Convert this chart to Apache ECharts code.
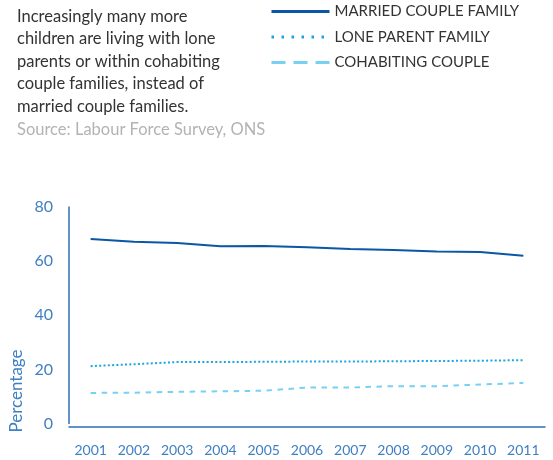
<!DOCTYPE html>
<html>
<head>
<meta charset="utf-8">
<script src="https://cdn.jsdelivr.net/npm/echarts@6/dist/echarts.min.js"></script>
<style>
  html, body { margin: 0; padding: 0; background: #fff; }
  #chart { width: 553px; height: 460px; }
</style>
</head>
<body>
<div id="chart"></div>
<script>
// Share of dependent children by family type, UK 2001-2011 (%)
const years = ['2001', '2002', '2003', '2004', '2005', '2006', '2007', '2008', '2009', '2010', '2011'];
const marriedCouple = [68.2, 67.2, 66.7, 65.5, 65.6, 65.1, 64.5, 64.1, 63.6, 63.4, 62.0];
const loneParent = [21.2, 21.9, 22.7, 22.7, 22.8, 22.9, 22.9, 23.0, 23.1, 23.2, 23.4];
const cohabitingCouple = [11.3, 11.4, 11.7, 11.9, 12.1, 13.3, 13.3, 13.8, 13.8, 14.4, 15.0];
const yTicks = [0, 20, 40, 60, 80];

const FONT = 'Lato, "Noto Sans", sans-serif';
const AXIS_BLUE = '#2f6fb3';
const LABEL_BLUE = '#3f7fc2';
const C_MARRIED = '#0a57a6';
const C_LONE = '#1aa6e2';
const C_COHAB = '#78d0f4';

const chart = echarts.init(document.getElementById('chart'), null, { renderer: 'canvas' });

// legend keys show only the line sample, no point marker
const hiddenMarker = { color: 'transparent', borderColor: 'transparent', borderWidth: 0, opacity: 0 };

chart.setOption({
  animation: false,
  backgroundColor: '#ffffff',
  textStyle: { fontFamily: FONT },
  title: {
    left: 12,
    top: 0,
    text: 'Increasingly many more\nchildren are living with lone\nparents or within cohabiting\ncouple families, instead of\nmarried couple families.',
    subtext: 'Source: Labour Force Survey, ONS',
    itemGap: 0,
    textStyle: { fontFamily: FONT, fontSize: 16.5, fontWeight: 'normal', color: '#333333', lineHeight: 22.6 },
    subtextStyle: { fontFamily: FONT, fontSize: 16.5, color: '#b3b3b3', lineHeight: 22.6 }
  },
  legend: {
    orient: 'vertical',
    left: 270,
    top: 4,
    padding: 0,
    itemWidth: 58,
    itemHeight: 10,
    itemGap: 10.5,
    textStyle: { fontFamily: FONT, fontSize: 15, color: '#333333' },
    data: [
      { name: 'MARRIED COUPLE FAMILY', itemStyle: hiddenMarker, lineStyle: { color: C_MARRIED, width: 3, type: 'solid' } },
      { name: 'LONE PARENT FAMILY', itemStyle: hiddenMarker, lineStyle: { color: C_LONE, width: 3, type: [2.5, 7.5] } },
      { name: 'COHABITING COUPLE', itemStyle: hiddenMarker, lineStyle: { color: C_COHAB, width: 3, type: [14, 8] } }
    ]
  },
  grid: { left: 69, right: 8, top: 207, bottom: 36.5, containLabel: false },
  xAxis: {
    type: 'category',
    data: years,
    boundaryGap: true,
    offset: 3,
    axisLine: { onZero: false, lineStyle: { color: AXIS_BLUE, width: 1.5 } },
    axisTick: { show: false },
    axisLabel: { color: LABEL_BLUE, fontFamily: FONT, fontSize: 14, margin: 17, interval: 0 }
  },
  yAxis: {
    type: 'value',
    min: yTicks[0],
    max: yTicks[yTicks.length - 1],
    interval: 20,
    axisLine: { show: true, lineStyle: { color: AXIS_BLUE, width: 1.5 } },
    axisTick: { show: false },
    splitLine: { show: false },
    axisLabel: { color: LABEL_BLUE, fontFamily: FONT, fontSize: 16, margin: 16 }
  },
  graphic: [{
    type: 'text',
    x: 17,
    y: 391,
    rotation: Math.PI / 2,
    style: {
      text: 'Percentage',
      fill: LABEL_BLUE,
      font: '17px ' + FONT,
      textAlign: 'center',
      textVerticalAlign: 'middle'
    }
  }],
  series: [
    {
      name: 'MARRIED COUPLE FAMILY',
      type: 'line',
      data: marriedCouple,
      symbol: 'none',
      lineStyle: { color: C_MARRIED, width: 2, type: 'solid' },
      itemStyle: { color: C_MARRIED }
    },
    {
      name: 'LONE PARENT FAMILY',
      type: 'line',
      data: loneParent,
      symbol: 'none',
      lineStyle: { color: C_LONE, width: 2, type: [2, 2.3] },
      itemStyle: { color: C_LONE }
    },
    {
      name: 'COHABITING COUPLE',
      type: 'line',
      data: cohabitingCouple,
      symbol: 'none',
      lineStyle: { color: C_COHAB, width: 2, type: [5.5, 5.5] },
      itemStyle: { color: C_COHAB }
    }
  ]
});
</script>
</body>
</html>
